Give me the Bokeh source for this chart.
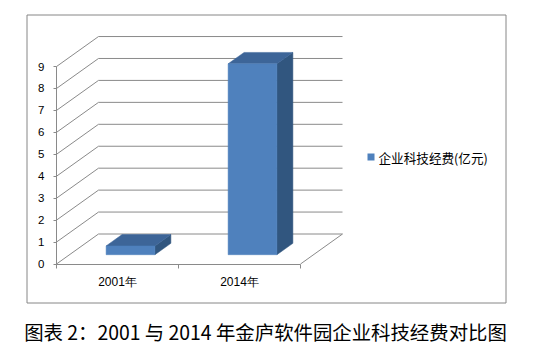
from bokeh.plotting import figure
from bokeh.models import Range1d, LinearAxis, FixedTicker
from bokeh.core.properties import value
from bokeh.embed import file_html
from bokeh.resources import INLINE

# ---- data ----
categories = ["2001年", "2014年"]
values = [0.4, 8.7]
series_name = "企业科技经费(亿元)"
y_ticks = [0, 1, 2, 3, 4, 5, 6, 7, 8, 9]
caption = "图表 2：2001 与 2014 年金庐软件园企业科技经费对比图"

# ---- layout constants (pixels) ----
W, H = 536, 357
X0, SX = 56.0, 122.0      # x=0 at px 56, one category = 122 px
Y0, SY = 263.5, 21.94     # y=0 at px 263.5, one unit = 21.94 px


def px_x(px):
    return (px - X0) / SX


def px_y(py):
    return (Y0 - py) / SY


DX = 42.0 / SX            # oblique depth offset
DY = 30.0 / SY
F_FRONT = 0.31            # bar front face depth fraction
F_DEPTH = 0.38            # bar depth fraction
BW = 0.4                  # bar width in category units

GRID = "#8a8a8a"
FRONT = "#4f81bd"
TOP = "#3d6598"
SIDE = "#31567f"
FONT = "Liberation Sans"
CJK = "Noto Sans CJK SC"

n = len(categories)

p = figure(width=W, height=H,
           x_range=Range1d(px_x(0), px_x(W)),
           y_range=Range1d(px_y(H), px_y(0)),
           min_border=0, toolbar_location=None, output_backend="svg",
           x_axis_type=None, y_axis_type=None,
           outline_line_color=None,
           background_fill_color="white", border_fill_color="white")

# outer chart border
p.quad(left=[px_x(26.5)], right=[px_x(505.5)], top=[px_y(14.5)], bottom=[px_y(302.5)],
       fill_color=None, line_color="#868686", line_width=1)

# back wall gridlines
p.segment(x0=[DX] * len(y_ticks), y0=[v + DY for v in y_ticks],
          x1=[n + DX] * len(y_ticks), y1=[v + DY for v in y_ticks],
          line_color=GRID, line_width=1)
# side wall diagonals
p.segment(x0=[0] * len(y_ticks), y0=[v for v in y_ticks],
          x1=[DX] * len(y_ticks), y1=[v + DY for v in y_ticks],
          line_color=GRID, line_width=1)
# floor right edge
p.segment(x0=[n], y0=[0], x1=[n + DX], y1=[DY], line_color=GRID, line_width=1)

# bars
lefts = [i + 0.5 - BW / 2 + F_FRONT * DX for i in range(n)]
rights = [l + BW for l in lefts]
bot = F_FRONT * DY
ddx, ddy = F_DEPTH * DX, F_DEPTH * DY

side_xs, side_ys, top_xs, top_ys = [], [], [], []
for l, r, v in zip(lefts, rights, values):
    t = v + bot
    side_xs.append([r, r, r + ddx, r + ddx])
    side_ys.append([bot, t, t + ddy, bot + ddy])
    top_xs.append([l, r, r + ddx, l + ddx])
    top_ys.append([t, t, t + ddy, t + ddy])

p.patches(xs=side_xs, ys=side_ys, fill_color=SIDE, line_color=SIDE, line_width=0.5)
p.patches(xs=top_xs, ys=top_ys, fill_color=TOP, line_color=TOP, line_width=0.5)
p.quad(left=lefts, right=rights, bottom=[bot] * n, top=[v + bot for v in values],
       fill_color=FRONT, line_color=FRONT, line_width=0.5)

# y axis (front-left edge)
yax = LinearAxis(fixed_location=0, bounds=(0, y_ticks[-1]),
                 ticker=FixedTicker(ticks=y_ticks),
                 axis_line_color=GRID, major_tick_line_color=GRID,
                 minor_tick_line_color=None,
                 major_tick_in=0, major_tick_out=3,
                 major_label_standoff=9,
                 major_label_text_font=FONT,
                 major_label_text_font_size="11.5px",
                 major_label_text_color="black")
p.add_layout(yax, "left")

# x axis line with boundary ticks
xax = LinearAxis(fixed_location=0, bounds=(0, n),
                 ticker=FixedTicker(ticks=list(range(n + 1))),
                 axis_line_color=GRID, major_tick_line_color=GRID,
                 minor_tick_line_color=None,
                 major_tick_in=0, major_tick_out=4,
                 major_label_text_color=None)
p.add_layout(xax, "below")

# x axis category labels
centers = [i + 0.5 for i in range(n)]
xlab = LinearAxis(fixed_location=0,
                  ticker=FixedTicker(ticks=centers),
                  major_label_overrides={c: lab for c, lab in zip(centers, categories)},
                  axis_line_color=None, major_tick_line_color=None,
                  minor_tick_line_color=None,
                  major_tick_in=0, major_tick_out=0,
                  major_label_standoff=11,
                  major_label_text_font=FONT,
                  major_label_text_font_size="12px",
                  major_label_text_color="black")
p.add_layout(xlab, "below")

# legend
p.rect(x=[px_x(370.5)], y=[px_y(156.5)], width=7, height=7,
       width_units="screen", height_units="screen",
       fill_color=FRONT, line_color=None)
p.text(x=[px_x(378)], y=[px_y(157.3)], text=[series_name],
       text_font=value(CJK), text_font_size="12.6px", text_color="black",
       text_align="left", text_baseline="middle")

# caption
p.text(x=[px_x(265)], y=[px_y(330.7)], text=[caption],
       text_font=value(CJK), text_font_size="19.4px", text_color="black",
       text_align="center", text_baseline="middle")

open("out.html", "w").write(file_html(p, INLINE))
